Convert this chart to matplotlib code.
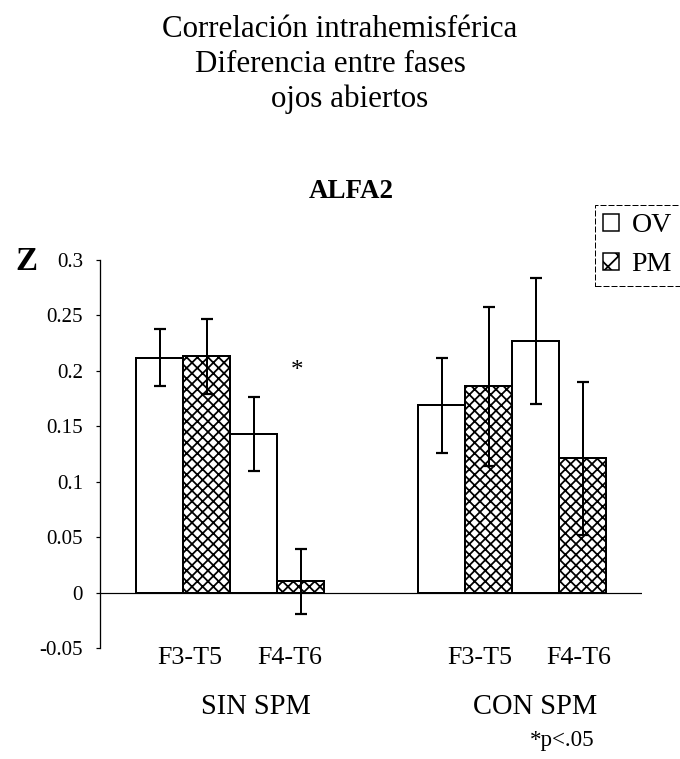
import matplotlib
matplotlib.use('Agg')
import matplotlib.pyplot as plt
from matplotlib.patches import Patch
from matplotlib.transforms import blended_transform_factory

# ---------------- data ----------------
groups = ['SIN SPM', 'CON SPM']
sites = ['F3-T5', 'F4-T6', 'F3-T5', 'F4-T6']
ov_mean = [0.212, 0.143, 0.169, 0.227]
ov_err = [0.026, 0.033, 0.043, 0.057]
pm_mean = [0.213, 0.010, 0.186, 0.121]
pm_err = [0.034, 0.029, 0.072, 0.069]
yticks = [-0.05, 0, 0.05, 0.1, 0.15, 0.2, 0.25, 0.3]
ytick_labels = ['-0.05', '0', '0.05', '0.1', '0.15', '0.2', '0.25', '0.3']
series = ['OV', 'PM']
title_lines = ['Correlación intrahemisférica', 'Diferencia entre fases', 'ojos abiertos']
subtitle = 'ALFA2'
note = '*p<.05'

# ---------------- layout ----------------
W, H, DPI = 680, 759, 128
def pt(px):
    return px * 72.0 / DPI

plt.rcParams['font.family'] = ['Liberation Serif', 'DejaVu Serif']
plt.rcParams['hatch.linewidth'] = 1.0

fig = plt.figure(figsize=(W / DPI, H / DPI), dpi=DPI)
ax_left, ax_right, ax_top, ax_bottom = 100, 642, 260, 648
ax = fig.add_axes([ax_left / W, 1 - ax_bottom / H,
                   (ax_right - ax_left) / W, (ax_bottom - ax_top) / H])

unit = 47.0
pair_centers = [1.77, 3.77, 7.77, 9.77]
label_x = [1.91, 4.04, 8.09, 10.19]
group_x = [3.32, 9.26]
bw = 1.0

ov_x = [c - bw / 2 for c in pair_centers]
pm_x = [c + bw / 2 for c in pair_centers]

lw_bar = pt(2.0)
ax.bar(ov_x, ov_mean, width=bw, color='white', edgecolor='black',
       linewidth=lw_bar, zorder=2, label=series[0])
ax.bar(pm_x, pm_mean, width=bw, color='white', edgecolor='black',
       linewidth=lw_bar, hatch='xxxx', zorder=2, label=series[1])
ax.errorbar(ov_x, ov_mean, yerr=ov_err, fmt='none', ecolor='black',
            elinewidth=pt(2.0), capsize=pt(6), capthick=pt(2.2), zorder=3)
ax.errorbar(pm_x, pm_mean, yerr=pm_err, fmt='none', ecolor='black',
            elinewidth=pt(2.0), capsize=pt(6), capthick=pt(2.2), zorder=3)

ax.axhline(0, color='black', linewidth=pt(1.2), zorder=1)

ax.set_xlim(0, (ax_right - ax_left) / unit)
ax.set_ylim(-0.05, 0.3)
ax.set_yticks(yticks)
ax.set_yticklabels(ytick_labels, fontsize=pt(21))
ax.tick_params(axis='y', direction='out', length=pt(4), width=pt(1.2),
               pad=pt(13), colors='black')
ax.set_xticks([])
for s in ['top', 'right', 'bottom']:
    ax.spines[s].set_visible(False)
ax.spines['left'].set_linewidth(pt(1.3))
ax.patch.set_alpha(0)

# category labels and group labels (x in data, y in figure pixels)
tr = blended_transform_factory(ax.transData, fig.transFigure)
for x, lab in zip(label_x, sites):
    ax.text(x, 1 - 664 / H, lab, transform=tr, ha='center', va='baseline',
            fontsize=pt(26))
for x, lab in zip(group_x, groups):
    ax.text(x, 1 - 714 / H, lab, transform=tr, ha='center', va='baseline',
            fontsize=pt(28.5))

# significance star
ax.text(pm_x[1] - 0.08, 0.2, '*', ha='center', va='center', fontsize=pt(25))

# titles
title_pos = [(340, 37), (330, 72), (350, 107)]
for (x, y), line in zip(title_pos, title_lines):
    fig.text(x / W, 1 - y / H, line, ha='center', va='baseline', fontsize=pt(31))
fig.text(351 / W, 1 - 198 / H, subtitle, ha='center', va='baseline',
         fontsize=pt(27), fontweight='bold')
fig.text(26 / W, 1 - 270 / H, 'Z', ha='center', va='baseline',
         fontsize=pt(33), fontweight='bold')
fig.text(562 / W, 1 - 746 / H, note, ha='center', va='baseline', fontsize=pt(23))

# legend
handles = [Patch(facecolor='white', edgecolor='black', linewidth=pt(1.5), label=series[0]),
           Patch(facecolor='white', edgecolor='black', linewidth=pt(1.5), hatch='xx',
                 label=series[1])]
leg = fig.legend(handles=handles, loc='upper left',
                 bbox_to_anchor=(595 / W, 1 - 205 / H), borderaxespad=0,
                 fontsize=pt(28), handlelength=0.55, handleheight=0.55,
                 handletextpad=0.45, labelspacing=0.5, borderpad=0.3,
                 fancybox=False, framealpha=1)
fr = leg.get_frame()
fr.set_edgecolor('black')
fr.set_linewidth(pt(1.0))
fr.set_linestyle((0, (6, 2)))

fig.savefig('out.png', dpi=DPI, facecolor='white')
